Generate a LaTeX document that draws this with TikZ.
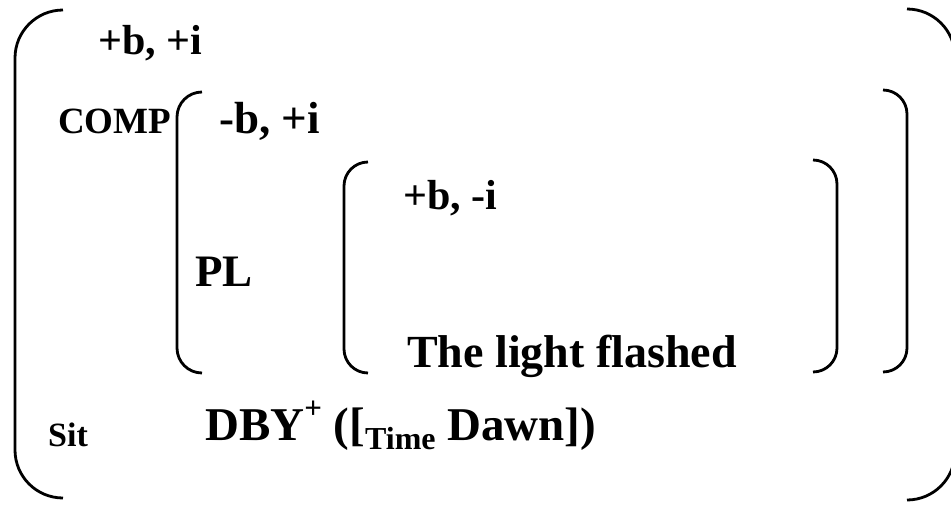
\documentclass[tikz,border=0pt]{standalone}
\usepackage{fontspec}
\setmainfont{Liberation Serif}
\begin{document}
\begin{tikzpicture}[x=1pt,y=-1pt,
  brk/.style={line width=2.8pt},
  lbl/.style={inner sep=0pt,anchor=base west,font=\bfseries}]
\useasboundingbox (0,0) rectangle (951,504);
\clip (0,0) rectangle (951,504);

% outer bracket pair
\draw[brk] (63,10) arc[start angle=270,end angle=180,radius=48] -- (15,450)
           arc[start angle=180,end angle=90,radius=48];
\draw[brk] (907,9) arc[start angle=270,end angle=360,radius=48] -- (955,452)
           arc[start angle=0,end angle=90,radius=48];

% COMP bracket pair
\draw[brk] (202,92) arc[start angle=270,end angle=180,radius=25] -- (177,348)
           arc[start angle=180,end angle=90,radius=25];
\draw[brk] (883,90) arc[start angle=270,end angle=360,radius=24] -- (907,348)
           arc[start angle=0,end angle=90,radius=24];

% PL bracket pair
\draw[brk] (368,162) arc[start angle=270,end angle=180,radius=24] -- (344,349)
           arc[start angle=180,end angle=90,radius=24];
\draw[brk] (813,160) arc[start angle=270,end angle=360,radius=24] -- (837,348)
           arc[start angle=0,end angle=90,radius=24];

% feature labels
\node[lbl,font=\bfseries\fontsize{42}{48}\selectfont] (top) at (98,54) {+b, +i};
\node[lbl,font=\bfseries\fontsize{37}{42}\selectfont] (comp) at (58,133) {COMP};
\node[lbl,font=\bfseries\fontsize{45}{50}\selectfont] (mid) at (219,133) {-b, +i};
\node[lbl,font=\bfseries\fontsize{42}{48}\selectfont] (inner) at (403,209) {+b, -i};
\node[lbl,font=\bfseries\fontsize{45}{50}\selectfont] (pl) at (195,286) {PL};
\node[lbl,font=\bfseries\fontsize{46}{52}\selectfont] (clause) at (407,367) {The light flashed};
\node[lbl,font=\bfseries\fontsize{34}{38}\selectfont] (sit) at (48,446) {Sit};
\node[lbl,font=\bfseries\fontsize{47}{52}\selectfont] (dby) at (205,440)
  {DBY\raisebox{0.45em}{\fontsize{31}{34}\selectfont+} ([\raisebox{-0.2em}{\fontsize{32}{36}\selectfont Time} Dawn])};
\end{tikzpicture}
\end{document}
